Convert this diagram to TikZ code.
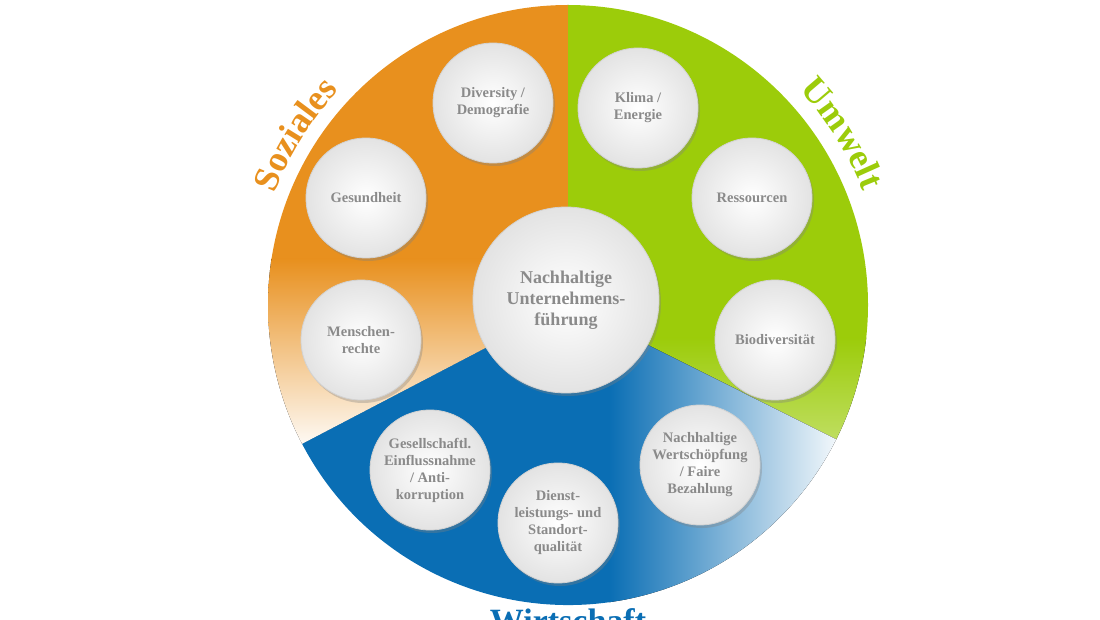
\documentclass[tikz,border=0pt]{standalone}
\usepackage{fontspec}
\setmainfont{Liberation Serif}
\usetikzlibrary{shadows,decorations.text}
\definecolor{sorange}{HTML}{E8901E}
\definecolor{sgreen}{HTML}{9CCC0A}
\definecolor{sblue}{HTML}{0A6EB4}
\definecolor{tgray}{HTML}{8A8A8A}
\tikzset{
  bubble/.style={circle,minimum size=#1,inner sep=0pt,align=center,
    inner color=white,outer color=gray!22,draw=gray!35,line width=0.8pt,
    drop shadow={shadow xshift=2pt,shadow yshift=-3pt,opacity=0.35},
    font=\bfseries\fontsize{14.5}{17}\selectfont,text=tgray},
  bubble/.default=120pt,
  sectlabel/.style={font=\bfseries\fontsize{34}{34}\selectfont}
}
\begin{document}
\begin{tikzpicture}[x=1pt,y=1pt]
\useasboundingbox (0,0) rectangle (1100,619);
\coordinate (C) at (568,314);
% orange sector
\begin{scope}
\clip (C) -- ++(90:300) arc[start angle=90,end angle=207.6,radius=300] -- cycle;
\fill[sorange] (260,619) rectangle (580,359);
\fill[top color=sorange,bottom color=white] (260,360) rectangle (580,165);
\end{scope}
% green sector
\begin{scope}
\clip (C) -- ++(90:300) arc[start angle=90,end angle=-26.6,radius=300] -- cycle;
\fill[sgreen] (560,619) rectangle (880,280);
\fill[top color=sgreen,bottom color=sgreen!55] (560,281) rectangle (880,150);
\end{scope}
% blue sector
\begin{scope}
\clip (C) -- ++(207.6:300) arc[start angle=207.6,end angle=333.4,radius=300] -- cycle;
\fill[sblue] (260,0) rectangle (610,330);
\fill[left color=sblue,right color=white] (609,0) rectangle (850,330);
\end{scope}
% labels
\path[decorate,decoration={text along path,text={|\bfseries\fontsize{36}{36}\selectfont\color{sorange}|Soziales},text align=center}]
  (C) ++(172:314) arc[start angle=172,end angle=124,radius=314];
\path[decorate,decoration={text along path,text={|\bfseries\fontsize{36}{36}\selectfont\color{sgreen}|Umwelt},text align=center}]
  (C) ++(52:316) arc[start angle=52,end angle=12,radius=316];
\node[sectlabel,text=sblue,anchor=north] (wl) at (568,14) {Wirtschaft};
% bubbles
\node[bubble=186pt,font=\bfseries\fontsize{18}{21}\selectfont] (main) at (566,319) {Nachhaltige\\Unternehmens-\\führung};
\node[bubble] (b1) at (493,516) {Diversity /\\Demografie};
\node[bubble] (b2) at (638,511) {Klima /\\Energie};
\node[bubble] (b3) at (366,421) {Gesundheit};
\node[bubble] (b4) at (752,421) {Ressourcen};
\node[bubble] (b5) at (361,279) {Menschen-\\rechte};
\node[bubble] (b6) at (775,279) {Biodiversität};
\node[bubble] (b7) at (430,149) {Gesellschaftl.\\Einflussnahme\\/ Anti-\\korruption};
\node[bubble] (b8) at (558,96) {Dienst-\\leistungs- und\\Standort-\\qualität};
\node[bubble] (b9) at (700,154) {Nachhaltige\\Wertschöpfung\\/ Faire\\Bezahlung};
\end{tikzpicture}
\end{document}
